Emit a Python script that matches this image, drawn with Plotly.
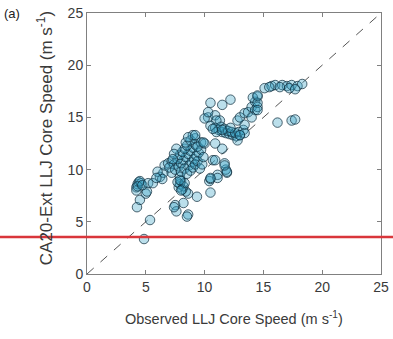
import plotly.graph_objects as go

# observed vs modelled LLJ core speed (m/s)
obs = [4.85, 5.36, 4.25, 4.5, 5.0, 5.1, 4.2, 4.3, 4.4, 4.6, 4.5, 4.2, 4.3, 4.7, 5.2, 5.6, 6.2, 6.5, 6.4,
       6.6, 6.9, 7.2, 7.4, 7.2, 7.0, 7.9, 7.5, 7.6, 7.4, 8.6, 8.5, 8.2, 8.6, 8.4, 9.35, 10.5, 10.4, 10.5,
       11.1, 11.9, 11.8, 11.1, 10.5,
       7.8, 7.9, 8.0, 8.2, 7.7, 8.1, 8.3, 7.9, 8.0,
       7.5, 7.8, 8.0, 8.2, 8.4, 8.6, 8.8, 9.0, 9.2, 7.7, 7.9, 8.1, 8.3, 8.5, 8.7, 8.9, 9.1, 9.3, 9.5,
       9.7, 8.0, 8.3, 8.5, 8.8, 9.0, 9.2, 9.4, 9.6, 9.8, 8.4, 8.8, 9.2, 9.0, 8.6, 7.6, 7.4, 7.3, 9.9,
       9.7, 9.4, 6.0, 5.9,
       9.2, 10.0, 9.9, 10.9, 11.5, 10.7, 11.7, 11.9, 10.9, 11.7,
       10.3, 10.9, 11.3, 11.0, 10.0, 10.3, 10.5, 11.5, 12.2,
       10.5, 10.9, 11.2, 11.5, 11.8, 12.1, 12.4, 12.7, 13.0, 11.0, 11.4, 11.7, 12.0, 12.3, 12.6, 12.9,
       11.5, 12.2, 10.7,
       13.3, 13.4, 12.8, 13.0, 13.4, 12.8, 13.0, 13.4, 13.7, 14.0, 14.3, 14.5, 14.3, 14.5, 14.1, 14.5,
       14.0, 14.5,
       15.1, 15.7, 16.0, 16.6, 17.0, 17.4, 17.9, 18.3, 16.4, 17.2, 17.7, 14.5, 15.5,
       16.2, 17.4, 17.7]
model = [3.35, 5.17, 6.4, 7.1, 7.7, 7.9, 8.3, 8.6, 8.8, 8.7, 8.9, 8.0, 8.4, 8.5, 8.7, 8.7, 9.3, 9.7, 9.1,
         10.4, 10.6, 10.8, 10.5, 9.7, 10.2, 9.3, 6.6, 6.0, 6.4, 5.7, 5.5, 6.8, 7.7, 7.9, 7.4, 7.8, 8.9, 9.1,
         9.5, 9.7, 10.0, 9.2, 9.2,
         8.3, 8.6, 8.9, 8.4, 8.8, 8.1, 8.7, 9.0, 8.0,
         10.0, 10.3, 10.6, 10.9, 11.2, 11.5, 11.8, 12.1, 12.4, 11.0, 11.4, 11.7, 12.0, 12.3, 10.4, 10.7,
         11.0, 11.3, 11.6, 11.9, 9.8, 10.1, 9.6, 9.9, 10.2, 10.5, 10.8, 10.1, 10.5, 12.6, 12.8, 13.0,
         13.3, 13.1, 12.0, 11.5, 11.0, 11.2, 12.6, 12.2, 9.8, 9.2,
         13.3, 12.5, 12.6, 12.5, 12.0, 10.9, 10.6, 9.8, 10.9, 10.4,
         15.0, 15.2, 14.7, 14.7, 14.9, 15.5, 16.4, 16.2, 16.7,
         14.2, 14.0, 13.8, 13.6, 13.5, 13.4, 13.3, 13.2, 13.3, 13.6, 14.1, 13.9, 13.7, 13.6, 13.5, 13.6,
         13.8, 14.0, 13.9,
         13.8, 13.5, 12.8, 13.3, 14.3, 14.7, 15.0, 15.4, 15.5, 16.0, 16.5, 17.0, 15.7, 16.0, 16.9, 16.4,
         15.0, 15.7,
         17.8, 18.0, 18.1, 18.1, 18.0, 18.1, 18.0, 18.2, 17.9, 17.8, 17.7, 17.1, 17.9,
         14.5, 14.7, 14.8]

one_to_one = [0, 25]
ticks = [0, 5, 10, 15, 20, 25]

fig = go.Figure()

fig.add_trace(go.Scatter(
    x=one_to_one, y=one_to_one,
    mode='lines',
    line=dict(color='#555555', width=1, dash='dash'),
    showlegend=False, hoverinfo='skip'
))

fig.add_trace(go.Scatter(
    x=obs, y=model,
    mode='markers',
    marker=dict(size=9.5, color='rgba(55,160,195,0.34)',
                line=dict(color='rgba(15,45,60,0.72)', width=1)),
    showlegend=False
))

axis_style = dict(
    range=[0, 25], tickvals=ticks, ticks='inside', ticklen=4,
    tickcolor='#808080', showline=True, linecolor='#808080', linewidth=1,
    mirror='ticks', showgrid=False, zeroline=False, automargin=False,
    tickfont=dict(size=14, color='#3a3a3a'),
)
fig.update_xaxes(**axis_style)
fig.update_yaxes(**axis_style)

# axis titles as annotations so the plot box stays put
fig.add_annotation(text='Observed LLJ Core Speed (m s<sup>-1</sup>)',
                   xref='paper', yref='paper', x=0.5, y=-0.17,
                   xanchor='center', yanchor='middle', showarrow=False,
                   font=dict(size=14.5, color='#3a3a3a'))
fig.add_annotation(text='CA20-Ext LLJ Core Speed (m s<sup>-1</sup>)',
                   xref='paper', yref='paper', x=-0.143, y=0.52, textangle=-90,
                   xanchor='center', yanchor='middle', showarrow=False,
                   font=dict(size=17, color='#3a3a3a'))

fig.add_annotation(text='(a)', xref='paper', yref='paper', x=-0.288, y=1.0,
                   xanchor='left', yanchor='middle', showarrow=False,
                   font=dict(size=13, color='#222222'))

# red marker line across the whole picture
fig.add_shape(type='line', xref='paper', yref='paper',
              x0=-87 / 294, x1=306 / 294, y0=37 / 261, y1=37 / 261,
              line=dict(color='#d9363b', width=2.5), layer='above')

fig.update_layout(
    width=393, height=339,
    margin=dict(l=87, r=12, t=13, b=65),
    plot_bgcolor='white', paper_bgcolor='white',
    font=dict(family='Liberation Sans, Arial, sans-serif'),
)

# drop the default page margin so the figure sits at the window corner
fig.write_html("out.html", config={'displayModeBar': False},
               post_script="document.body.style.margin='0px';")
